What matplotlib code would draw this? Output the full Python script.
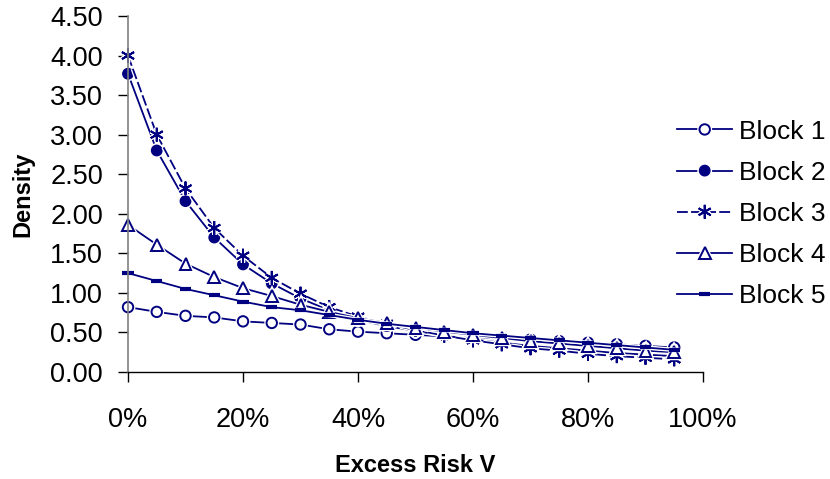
"""Density of excess risk V for five blocks."""

import matplotlib

matplotlib.use("Agg")
import matplotlib.pyplot as plt
import matplotlib.patheffects as pe
from matplotlib.ticker import FuncFormatter, MultipleLocator

NAVY = "#000080"

excess_risk = [0.00, 0.05, 0.10, 0.15, 0.20, 0.25, 0.30, 0.35, 0.40, 0.45,
               0.50, 0.55, 0.60, 0.65, 0.70, 0.75, 0.80, 0.85, 0.90, 0.95]

block_1 = [0.82, 0.76, 0.71, 0.69, 0.64, 0.62, 0.60, 0.54, 0.51, 0.49,
           0.47, 0.45, 0.44, 0.42, 0.41, 0.39, 0.37, 0.35, 0.33, 0.31]
block_2 = [3.77, 2.80, 2.16, 1.70, 1.36, 1.12, 0.93, 0.78, 0.66, 0.58,
           0.52, 0.46, 0.41, 0.37, 0.33, 0.30, 0.27, 0.24, 0.22, 0.20]
block_3 = [4.00, 3.00, 2.32, 1.82, 1.47, 1.19, 0.99, 0.82, 0.70, 0.61,
           0.53, 0.46, 0.40, 0.35, 0.30, 0.27, 0.23, 0.20, 0.18, 0.16]
block_4 = [1.86, 1.61, 1.37, 1.20, 1.06, 0.96, 0.85, 0.76, 0.68, 0.62,
           0.56, 0.51, 0.47, 0.43, 0.39, 0.36, 0.33, 0.30, 0.27, 0.25]
block_5 = [1.25, 1.15, 1.05, 0.97, 0.89, 0.82, 0.78, 0.72, 0.66, 0.61,
           0.57, 0.53, 0.49, 0.46, 0.43, 0.40, 0.37, 0.34, 0.31, 0.28]

labels = ["Block 1", "Block 2", "Block 3", "Block 4", "Block 5"]

plt.rcParams["font.family"] = ["Liberation Sans", "DejaVu Sans"]

fig = plt.figure(figsize=(8.3, 4.79), dpi=100)
ax = fig.add_axes([128 / 830, 1 - 372 / 479, 575 / 830, 356 / 479])

halo = [pe.Stroke(linewidth=3.2, foreground="white"), pe.Normal()]
styles = [
    dict(marker="o", markersize=7.5, markerfacecolor="white", markeredgewidth=1.4),
    dict(marker="o", markersize=7.5, markerfacecolor=NAVY, markeredgewidth=1.0),
    dict(marker=(6, 2, 0), markersize=10, markeredgewidth=1.4, linestyle=(0, (6, 1.8))),
    dict(marker="^", markersize=8.5, markerfacecolor="white", markeredgewidth=1.4),
    dict(marker="_", markersize=8, markeredgewidth=3.0),
]
series = [block_1, block_2, block_3, block_4, block_5]

for values, label, style in zip(series, labels, styles):
    kw = dict(color=NAVY, linewidth=1.3, markeredgecolor=NAVY)
    kw.update(style)
    line, = ax.plot(excess_risk, values, label=label, clip_on=False, **kw)
    line.set_path_effects(halo)

ax.set_xlim(0, 1)
ax.set_ylim(0, 4.5)
ax.xaxis.set_major_locator(MultipleLocator(0.2))
ax.yaxis.set_major_locator(MultipleLocator(0.5))
ax.xaxis.set_major_formatter(FuncFormatter(lambda v, _: f"{v * 100:.0f}%"))
ax.yaxis.set_major_formatter(FuncFormatter(lambda v, _: f"{v:.2f}"))

ax.spines["top"].set_visible(False)
ax.spines["right"].set_visible(False)
ax.spines["left"].set_color("#808080")
ax.spines["left"].set_linewidth(1.2)
ax.spines["bottom"].set_color("black")
ax.spines["bottom"].set_linewidth(1.0)

ax.tick_params(axis="y", direction="out", length=7, width=1, labelsize=19.5, pad=11)
ax.tick_params(axis="x", direction="out", length=7, width=1, labelsize=19.5, pad=18)

ax.set_xlabel("Excess Risk V", fontsize=17, fontweight="bold", labelpad=15)
ax.set_ylabel("Density", fontsize=17, fontweight="bold", labelpad=11)

handles, names = ax.get_legend_handles_labels()
leg = fig.legend(handles, names, loc="center left", bbox_to_anchor=(677 / 830, 1 - 214 / 479),
                 frameon=False, fontsize=19, handlelength=2.1, handletextpad=0.25,
                 labelspacing=0.65, borderpad=0, borderaxespad=0)

fig.savefig("out.png", dpi=100)
